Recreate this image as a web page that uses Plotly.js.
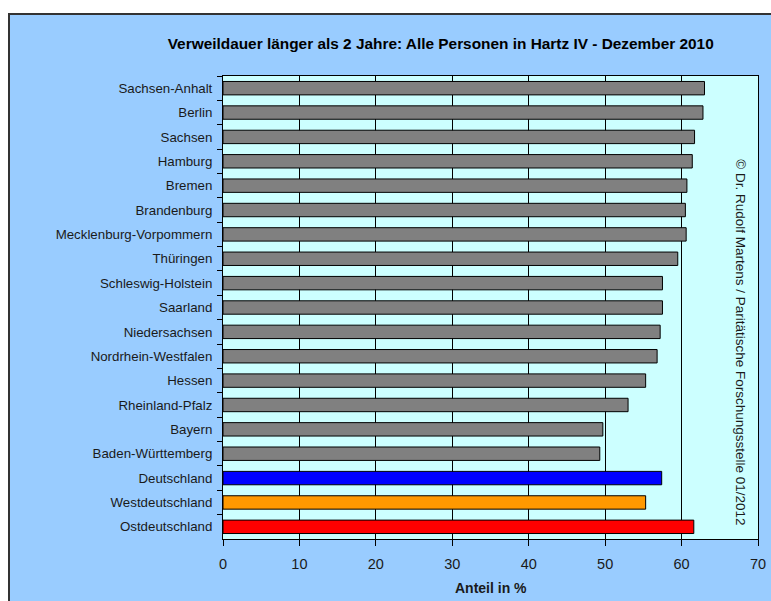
<!DOCTYPE html>
<html>
<head>
<meta charset="utf-8">
<script src="https://cdn.plot.ly/plotly-3.0.1.min.js"></script>
<style>
  html, body { margin: 0; padding: 0; background: #ffffff; width: 771px; height: 601px; overflow: hidden; }
  #wrap { position: absolute; left: 8px; top: 13px; border-left: 2px solid #333333; border-top: 2px solid #333333; background: #99CCFF; }
  #chart { width: 761px; height: 586px; }
</style>
</head>
<body>
<div id="wrap"><div id="chart"></div></div>
<script>
// Data (top to bottom as in the chart)
const categories = [
  "Sachsen-Anhalt", "Berlin", "Sachsen", "Hamburg", "Bremen", "Brandenburg",
  "Mecklenburg-Vorpommern", "Thüringen", "Schleswig-Holstein", "Saarland",
  "Niedersachsen", "Nordrhein-Westfalen", "Hessen", "Rheinland-Pfalz",
  "Bayern", "Baden-Württemberg", "Deutschland", "Westdeutschland", "Ostdeutschland"
];
const values = [
  63.0, 62.8, 61.7, 61.4, 60.7, 60.5,
  60.6, 59.5, 57.5, 57.5,
  57.2, 56.8, 55.3, 53.0,
  49.7, 49.3, 57.4, 55.3, 61.6
];
const barColors = [
  "#808080", "#808080", "#808080", "#808080", "#808080", "#808080",
  "#808080", "#808080", "#808080", "#808080",
  "#808080", "#808080", "#808080", "#808080",
  "#808080", "#808080", "#0000FF", "#FF9900", "#FF0000"
];
const xTicks = [0, 10, 20, 30, 40, 50, 60, 70];
const titleText = "Verweildauer länger als 2 Jahre: Alle Personen in Hartz IV - Dezember 2010";
const xTitleText = "Anteil in %";
const creditText = "© Dr. Rudolf Martens / Paritätische Forschungsstelle 01/2012";

const font = "Arial, 'Liberation Sans', sans-serif";

const trace = {
  type: "bar",
  orientation: "h",
  x: values,
  y: categories,
  marker: { color: barColors, line: { color: "#000000", width: 1 } },
  hoverinfo: "x+y"
};

const layout = {
  width: 761,
  height: 586,
  paper_bgcolor: "#99CCFF",
  plot_bgcolor: "#CCFFFF",
  margin: { l: 213, r: 13, t: 61, b: 62, pad: 0 },
  showlegend: false,
  bargap: 0.45,
  font: { family: font, color: "#1a1a1a" },
  title: {
    text: "<b>" + titleText + "</b>",
    font: { family: font, size: 15.4, color: "#000000" },
    xref: "container", yref: "container",
    x: 0.566, xanchor: "center",
    y: 0.952, yanchor: "middle"
  },
  xaxis: {
    range: [0, 70],
    tickvals: xTicks,
    ticktext: xTicks.map(String),
    showgrid: true,
    gridcolor: "#000000",
    gridwidth: 1,
    zeroline: false,
    showline: true,
    linecolor: "#000000",
    linewidth: 1,
    mirror: true,
    ticks: "outside",
    ticklen: 6,
    tickcolor: "#000000",
    ticklabelstandoff: 6,
    tickfont: { family: font, size: 14.5, color: "#1a1a1a" },
    fixedrange: true
  },
  yaxis: {
    type: "category",
    autorange: "reversed",
    showgrid: false,
    zeroline: false,
    showline: true,
    linecolor: "#000000",
    linewidth: 1,
    mirror: true,
    ticks: "outside",
    tickson: "boundaries",
    ticklen: 5,
    tickcolor: "#000000",
    ticklabelstandoff: 7,
    tickfont: { family: font, size: 13.3, color: "#1a1a1a" },
    fixedrange: true
  },
  annotations: [
    {
      text: "<b>" + xTitleText + "</b>",
      xref: "paper", yref: "paper",
      x: 0.5, y: -0.106,
      xanchor: "center", yanchor: "middle",
      showarrow: false,
      font: { family: font, size: 14, color: "#1a1a1a" }
    },
    {
      text: creditText,
      xref: "paper", yref: "paper",
      x: 0.966, y: 0.4255,
      xanchor: "center", yanchor: "middle",
      textangle: 90,
      showarrow: false,
      font: { family: font, size: 13.5, color: "#1a1a1a" }
    }
  ]
};

Plotly.newPlot("chart", [trace], layout, { displayModeBar: false, staticPlot: true });
</script>
</body>
</html>
